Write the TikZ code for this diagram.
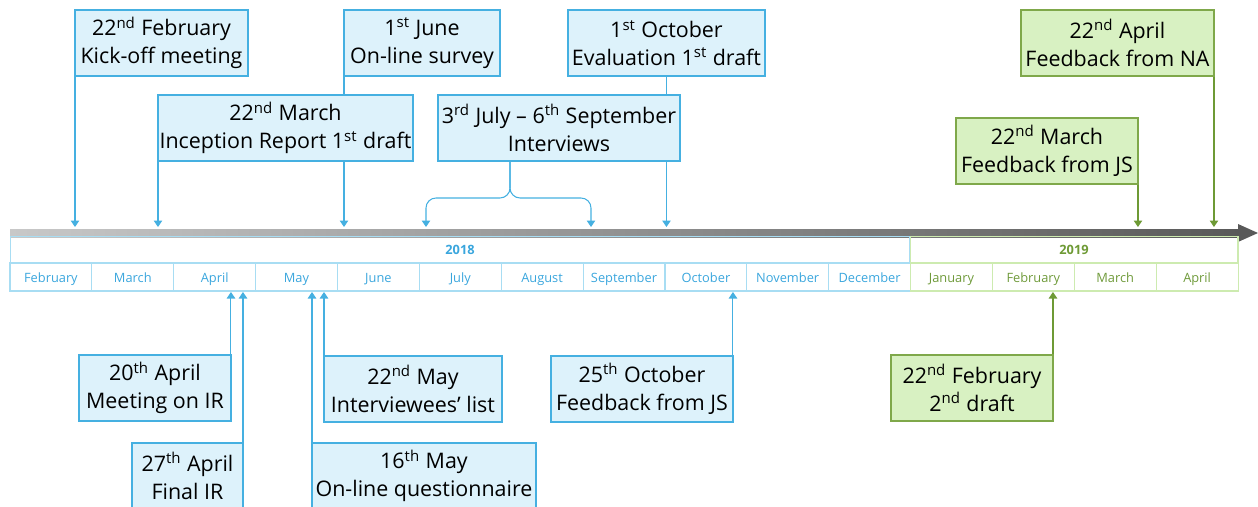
\documentclass[tikz,border=0pt]{standalone}
\usepackage{fontspec}
\setmainfont{Open Sans}
\usetikzlibrary{arrows.meta, calc, backgrounds}

\definecolor{evblue}{HTML}{45B0E1}
\definecolor{evfill}{HTML}{DDF2FB}
\definecolor{tblblue}{HTML}{A8DDF3}
\definecolor{monthblue}{HTML}{3AA6DD}
\definecolor{fbgreen}{HTML}{7FA84A}
\definecolor{fbfill}{HTML}{D8F1C2}
\definecolor{fbline}{HTML}{6E9A35}
\definecolor{tblgreen}{HTML}{CDEBB0}
\definecolor{monthgreen}{HTML}{6F9A3A}
\definecolor{bardark}{HTML}{595959}
\definecolor{barlight}{HTML}{C8C8C8}

\newcommand{\evtfont}{\fontsize{12.2pt}{15.9pt}\selectfont}
\newcommand{\monthfont}{\fontsize{7.3pt}{8.5pt}\selectfont}
\newcommand{\yearfont}{\fontsize{7.3pt}{8.5pt}\selectfont\bfseries}

\begin{document}
\begin{tikzpicture}[
    x=0.02cm, y=-0.02cm,
    evt/.style={draw=evblue, fill=evfill, line width=0.8pt, minimum height=1.32cm, inner sep=0pt, outer sep=0pt, align=center, font=\evtfont, anchor=north west},
    fbk/.style={evt, draw=fbgreen, fill=fbfill},
    link/.style={evblue, line width=0.6pt, -{Triangle[length=0.13cm, width=0.17cm]}},
    fblink/.style={link, fbline},
    month/.style={draw=tblblue, line width=0.6pt, minimum width=1.6373cm, minimum height=0.56cm, inner sep=0pt, text height=1.6ex, text depth=0.45ex, font=\monthfont, text=monthblue},
    month19/.style={month, draw=tblgreen, text=monthgreen},
    year/.style={draw=tblblue, line width=0.6pt, minimum height=0.52cm, inner sep=0pt, font=\yearfont, text=monthblue}
]
\useasboundingbox (0,0) rectangle (1258,507);

% Time bar
\shade[left color=barlight, right color=bardark] (10,229) rectangle (1240,237);
\fill[bardark] (1238,224) -- (1258,233) -- (1238,242) -- cycle;
\coordinate (bartop) at (0,227);
\coordinate (barbot) at (0,292);

% Years
\node[year, minimum width=18cm] (y2018) at (460,249.5) {2018};
\node[year, draw=tblgreen, text=fbline, minimum width=6.56cm] (y2019) at (1074,249.5) {2019};

% Months
\node[month] (m-feb) at (50.9,277) {February};
\node[month] (m-mar) at (132.8,277) {March};
\node[month] (m-apr) at (214.7,277) {April};
\node[month] (m-may) at (296.5,277) {May};
\node[month] (m-jun) at (378.4,277) {June};
\node[month] (m-jul) at (460.3,277) {July};
\node[month] (m-aug) at (542.1,277) {August};
\node[month] (m-sep) at (624.0,277) {September};
\node[month] (m-oct) at (705.9,277) {October};
\node[month] (m-nov) at (787.7,277) {November};
\node[month] (m-dec) at (869.6,277) {December};
\node[month19] (m-jan19) at (951.5,277) {January};
\node[month19] (m-feb19) at (1033.3,277) {February};
\node[month19] (m-mar19) at (1115.2,277) {March};
\node[month19] (m-apr19) at (1197.1,277) {April};

% Events above the bar
\node[evt, minimum width=3.46cm] (kickoff) at (75,10) {22\textsuperscript{nd} February\\Kick-off meeting};
\node[evt, minimum width=3.12cm] (survey) at (344,10) {1\textsuperscript{st} June\\On-line survey};
\node[evt, minimum width=3.94cm] (evaldraft) at (568,10) {1\textsuperscript{st} October\\Evaluation 1\textsuperscript{st} draft};
\node[evt, minimum width=5.1cm] (inception) at (158,95) {22\textsuperscript{nd} March\\Inception Report 1\textsuperscript{st} draft};
\node[evt, minimum width=4.84cm] (interviews) at (438,95) {3\textsuperscript{rd} July – 6\textsuperscript{th} September\\Interviews};
\node[fbk, minimum width=3.86cm] (fbna) at (1021,10) {22\textsuperscript{nd} April\\Feedback from NA};
\node[fbk, minimum width=3.64cm] (fbjs) at (956,118) {22\textsuperscript{nd} March\\Feedback from JS};

% Events below the bar
\node[evt, minimum width=3.04cm] (meetir) at (79,355) {20\textsuperscript{th} April\\Meeting on IR};
\node[evt, minimum width=2.22cm] (finalir) at (132,443) {27\textsuperscript{th} April\\Final IR};
\node[evt, minimum width=3.56cm] (ivlist) at (324,356) {22\textsuperscript{nd} May\\Interviewees’ list};
\node[evt, minimum width=4.48cm] (questionnaire) at (312,443) {16\textsuperscript{th} May\\On-line questionnaire};
\node[evt, minimum width=3.64cm] (fbjsoct) at (551,356) {25\textsuperscript{th} October\\Feedback from JS};
\node[fbk, minimum width=3.24cm] (draft2) at (891,355) {22\textsuperscript{nd} February\\2\textsuperscript{nd} draft};

% Arrows
\coordinate (ivstem) at ($(interviews.south west)+(72,0)$);
\coordinate (jul3) at (426,227);
\coordinate (sep6) at (591,227);
\begin{scope}[on background layer]
\draw[link] (kickoff.south west) -- (kickoff.south west |- bartop);
\draw[link] (survey.south west) -- (survey.south west |- bartop);
\draw[link] (evaldraft.south) -- (evaldraft.south |- bartop);
\draw[link] (inception.south west) -- (inception.south west |- bartop);
\draw[link, rounded corners=0.2cm] (ivstem) -- ++(0,37) -| (jul3);
\draw[link, rounded corners=0.2cm] (ivstem) -- ++(0,37) -| (sep6);
\draw[fblink] (fbna.south east) -- (fbna.south east |- bartop);
\draw[fblink] (fbjs.south east) -- (fbjs.south east |- bartop);
\draw[link] (meetir.north east) -- (meetir.north east |- barbot);
\draw[link] (finalir.north east) -- (finalir.north east |- barbot);
\draw[link] (ivlist.north west) -- (ivlist.north west |- barbot);
\draw[link] (questionnaire.north west) -- (questionnaire.north west |- barbot);
\draw[link] (fbjsoct.north east) -- (fbjsoct.north east |- barbot);
\draw[fblink] (draft2.north east) -- (draft2.north east |- barbot);
\end{scope}
\end{tikzpicture}
\end{document}
